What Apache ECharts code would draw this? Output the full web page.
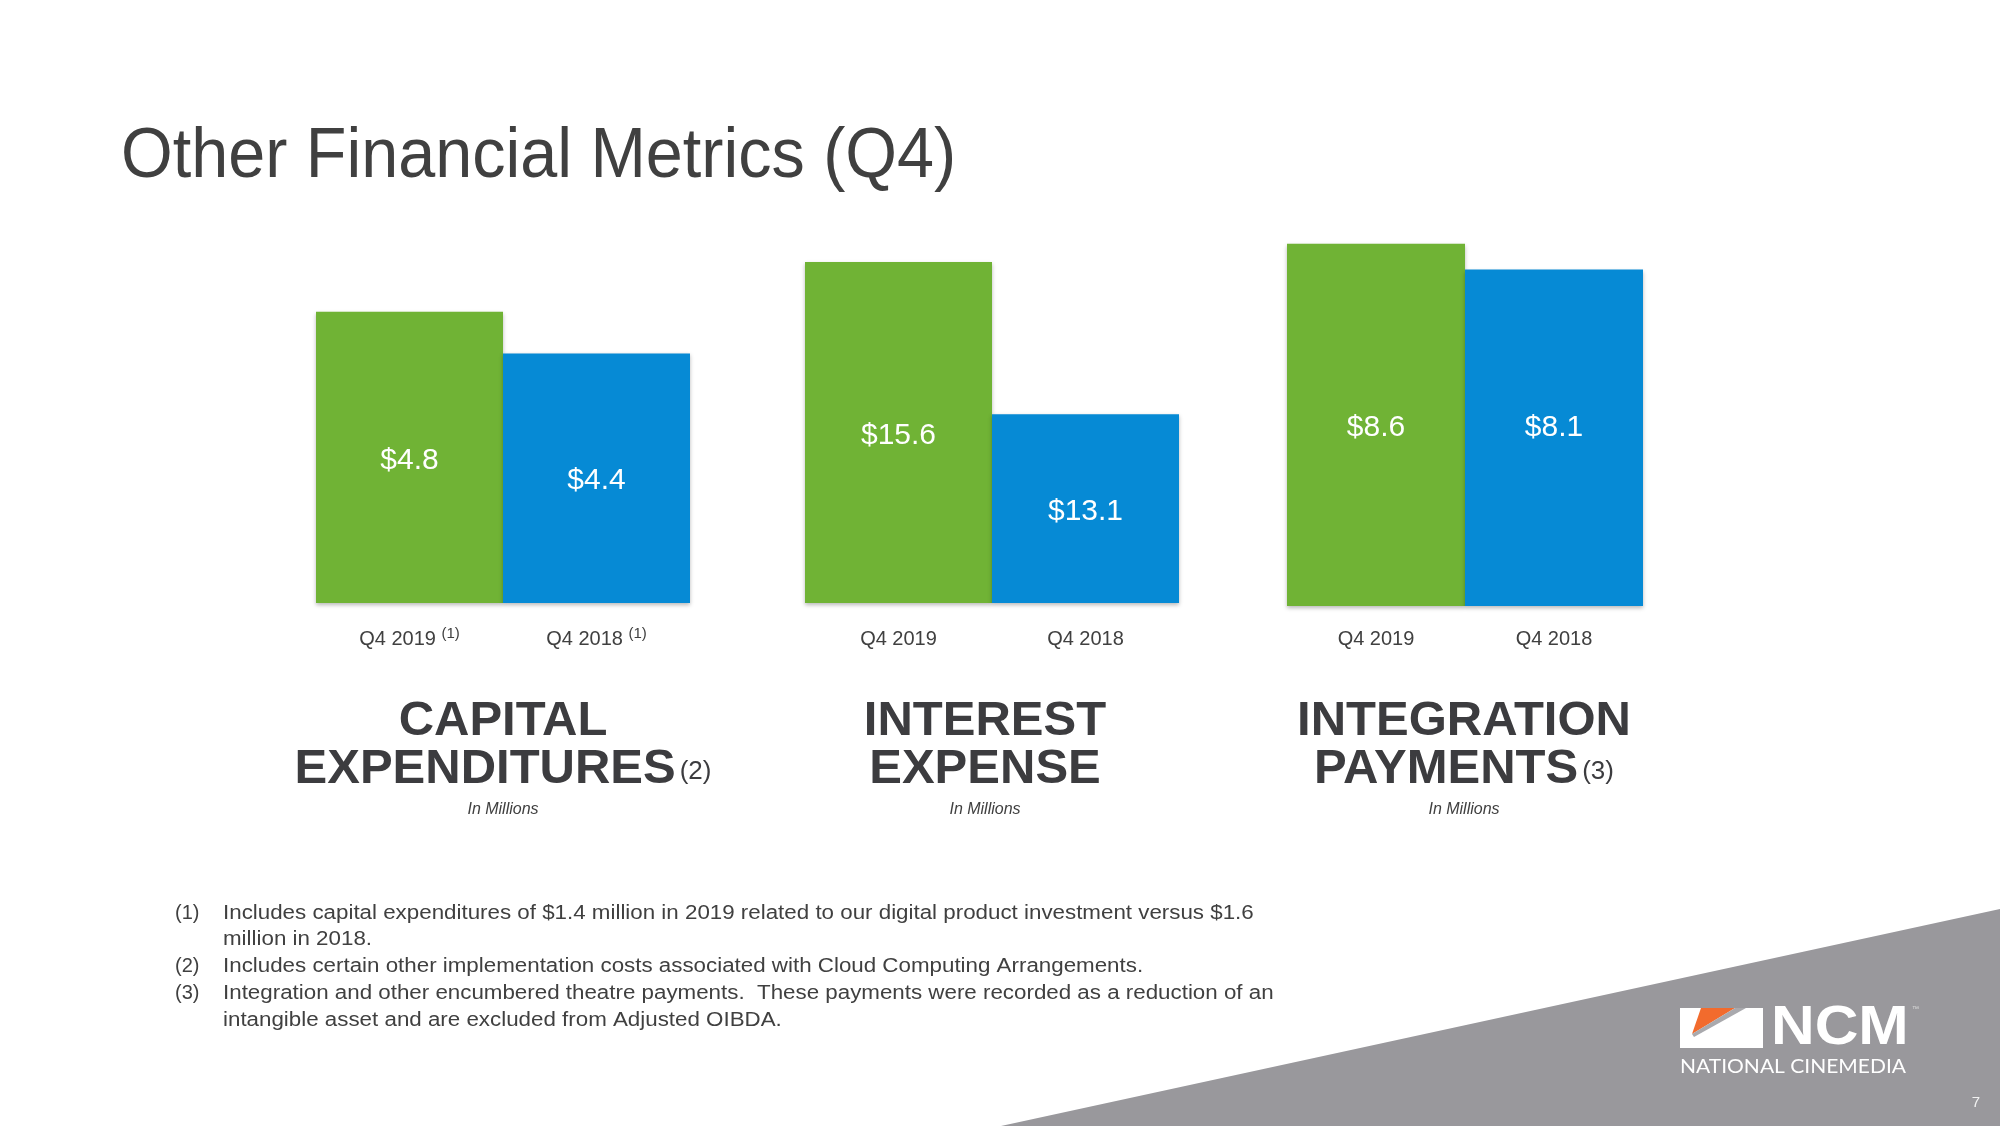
<!DOCTYPE html>
<html>
<head>
<meta charset="utf-8">
<title>Other Financial Metrics (Q4)</title>
<script src="https://cdn.jsdelivr.net/npm/echarts@6.0.0/dist/echarts.min.js"></script>
<style>
html, body { margin: 0; padding: 0; background: #fff; }
#main { width: 2000px; height: 1126px; }
</style>
</head>
<body>
<div id="main"></div>
<script>
var categories = ['Q4 2019', 'Q4 2018'];
var capexNotes = ['(1)', '(1)'];
var capexValues = [4.8, 4.4];
var interestValues = [15.6, 13.1];
var integrationValues = [8.6, 8.1];
var panelTitles = [
  ['CAPITAL', 'EXPENDITURES', '(2)'],
  ['INTEREST', 'EXPENSE', ''],
  ['INTEGRATION', 'PAYMENTS', '(3)']
];
var footnotes = [
  ['(1)', 'Includes capital expenditures of $1.4 million in 2019 related to our digital product investment versus $1.6'],
  ['', 'million in 2018.'],
  ['(2)', 'Includes certain other implementation costs associated with Cloud Computing Arrangements.'],
  ['(3)', 'Integration and other encumbered theatre payments.  These payments were recorded as a reduction of an'],
  ['', 'intangible asset and are excluded from Adjusted OIBDA.']
];

var FONT = "'Liberation Sans', Arial, sans-serif";
var barColors = ['#70B335', '#068AD5'];
var textGray = '#404040';

// pixel layout of the three little charts
var panels = [
  { values: capexValues, notes: capexNotes, left: 316, width: 374, top: 187, bottom: 523, min: 2, max: 6, margin: 23, center: 503 },
  { values: interestValues, notes: null, left: 805, width: 374, top: 116, bottom: 523, min: 10, max: 18, margin: 23, center: 985 },
  { values: integrationValues, notes: null, left: 1287, width: 356, top: 223, bottom: 520, min: 1.6, max: 9, margin: 20, center: 1464 }
];

var chart = echarts.init(document.getElementById('main'), null, { renderer: 'canvas' });

var grids = [], xAxes = [], yAxes = [], series = [];
panels.forEach(function (p, i) {
  grids.push({ left: p.left, width: p.width, top: p.top, bottom: p.bottom });
  xAxes.push({
    type: 'category',
    gridIndex: i,
    data: categories,
    axisLine: { show: false },
    axisTick: { show: false },
    axisLabel: {
      interval: 0,
      margin: p.margin,
      color: textGray,
      fontFamily: FONT,
      fontSize: 20,
      lineHeight: 26,
      formatter: function (v, j) {
        return p.notes ? v + ' {sup|' + p.notes[j] + '}' : v;
      },
      rich: {
        sup: { fontSize: 15, lineHeight: 15, fontFamily: FONT, color: textGray, verticalAlign: 'top' }
      }
    }
  });
  yAxes.push({ type: 'value', gridIndex: i, min: p.min, max: p.max, show: false, splitLine: { show: false } });
  series.push({
    type: 'bar',
    xAxisIndex: i,
    yAxisIndex: i,
    barCategoryGap: '0%',
    silent: true,
    data: p.values.map(function (v, j) {
      var item = { value: v, itemStyle: { color: barColors[j] } };
      if (i === 2 && j === 1) item.label = { offset: [0, -10] };
      return item;
    }),
    itemStyle: { shadowColor: 'rgba(0,0,0,0.28)', shadowBlur: 4, shadowOffsetY: 2 },
    label: {
      show: true,
      position: 'inside',
      offset: [0, 3],
      color: '#fff',
      fontFamily: FONT,
      fontSize: 30,
      formatter: function (d) { return '$' + d.value.toFixed(1); }
    }
  });
});

var graphics = [];

// slide title
graphics.push({
  type: 'text', x: 121, y: 158, scaleX: 0.95,
  style: { text: 'Other Financial Metrics (Q4)', fontFamily: FONT, fontSize: 70, fill: textGray,
    align: 'left', verticalAlign: 'middle', textAlign: 'left', textVerticalAlign: 'middle' }
});

// headings under each chart
panels.forEach(function (p, i) {
  var t = panelTitles[i];
  graphics.push({
    type: 'text', x: p.center, y: 721,
    style: { text: t[0], fontFamily: FONT, fontSize: 49, fontWeight: 'bold', fill: '#3C3C3F',
      align: 'center', verticalAlign: 'middle', textAlign: 'center', textVerticalAlign: 'middle' }
  });
  graphics.push({
    type: 'text', x: p.center, y: 769,
    style: {
      text: t[1] + (t[2] ? '{n|' + t[2] + '}' : ''),
      fontFamily: FONT, fontSize: 49, fontWeight: 'bold', fill: '#3C3C3F',
      align: 'center', verticalAlign: 'middle', textAlign: 'center', textVerticalAlign: 'middle',
      rich: { n: { fontFamily: FONT, fontSize: 26, fontWeight: 'normal', fill: '#3C3C3F', padding: [6, 0, 0, 4] } }
    }
  });
  graphics.push({
    type: 'text', x: p.center, y: 810,
    style: { text: 'In Millions', fontFamily: FONT, fontSize: 16, fontStyle: 'italic', fill: textGray,
      align: 'center', verticalAlign: 'middle', textAlign: 'center', textVerticalAlign: 'middle' }
  });
});

// footnotes
footnotes.forEach(function (f, i) {
  var y = 913 + i * 26.8;
  if (f[0]) {
    graphics.push({
      type: 'text', x: 175, y: y,
      style: { text: f[0], fontFamily: FONT, fontSize: 20, fill: textGray, verticalAlign: 'middle', textVerticalAlign: 'middle' }
    });
  }
  graphics.push({
    type: 'text', x: 223, y: y, scaleX: 1.117,
    style: { text: f[1], fontFamily: FONT, fontSize: 20, fill: textGray, verticalAlign: 'middle', textVerticalAlign: 'middle' }
  });
});

// grey corner band and logo
graphics.push({
  type: 'polygon', z: -1,
  shape: { points: [[2000, 909], [2000, 1126], [1001, 1126]] },
  style: { fill: '#99989C' }
});
graphics.push({ type: 'rect', shape: { x: 1680, y: 1008, width: 83, height: 40 }, style: { fill: '#fff' } });
graphics.push({ type: 'polygon', shape: { points: [[1701, 1008], [1735, 1008], [1692, 1034]] }, style: { fill: '#F26B2D' } });
graphics.push({ type: 'polygon', shape: { points: [[1735, 1008], [1746, 1008], [1694, 1037], [1692, 1034]] }, style: { fill: '#A9A9AD' } });
graphics.push({
  type: 'text', x: 1771, y: 1029, scaleX: 1.08,
  style: { text: 'NCM', fontFamily: FONT, fontSize: 56, fontWeight: 'bold', fill: '#fff',
    verticalAlign: 'middle', textVerticalAlign: 'middle' }
});
graphics.push({
  type: 'text', x: 1912, y: 1009,
  style: { text: '\u2122', fontFamily: FONT, fontSize: 7, fill: '#ddd', verticalAlign: 'middle', textVerticalAlign: 'middle' }
});
graphics.push({
  type: 'text', x: 1680, y: 1067, scaleX: 1.05,
  style: { text: 'NATIONAL CINEMEDIA', fontFamily: "Lato, 'Noto Sans', sans-serif", fontSize: 20, fill: '#fff',
    verticalAlign: 'middle', textVerticalAlign: 'middle' }
});
graphics.push({
  type: 'text', x: 1976, y: 1103,
  style: { text: '7', fontFamily: FONT, fontSize: 15, fill: '#f2f2f2', align: 'center', textAlign: 'center',
    verticalAlign: 'middle', textVerticalAlign: 'middle' }
});

chart.setOption({
  animation: false,
  backgroundColor: '#fff',
  grid: grids,
  xAxis: xAxes,
  yAxis: yAxes,
  series: series,
  graphic: { elements: graphics }
});
</script>
</body>
</html>
